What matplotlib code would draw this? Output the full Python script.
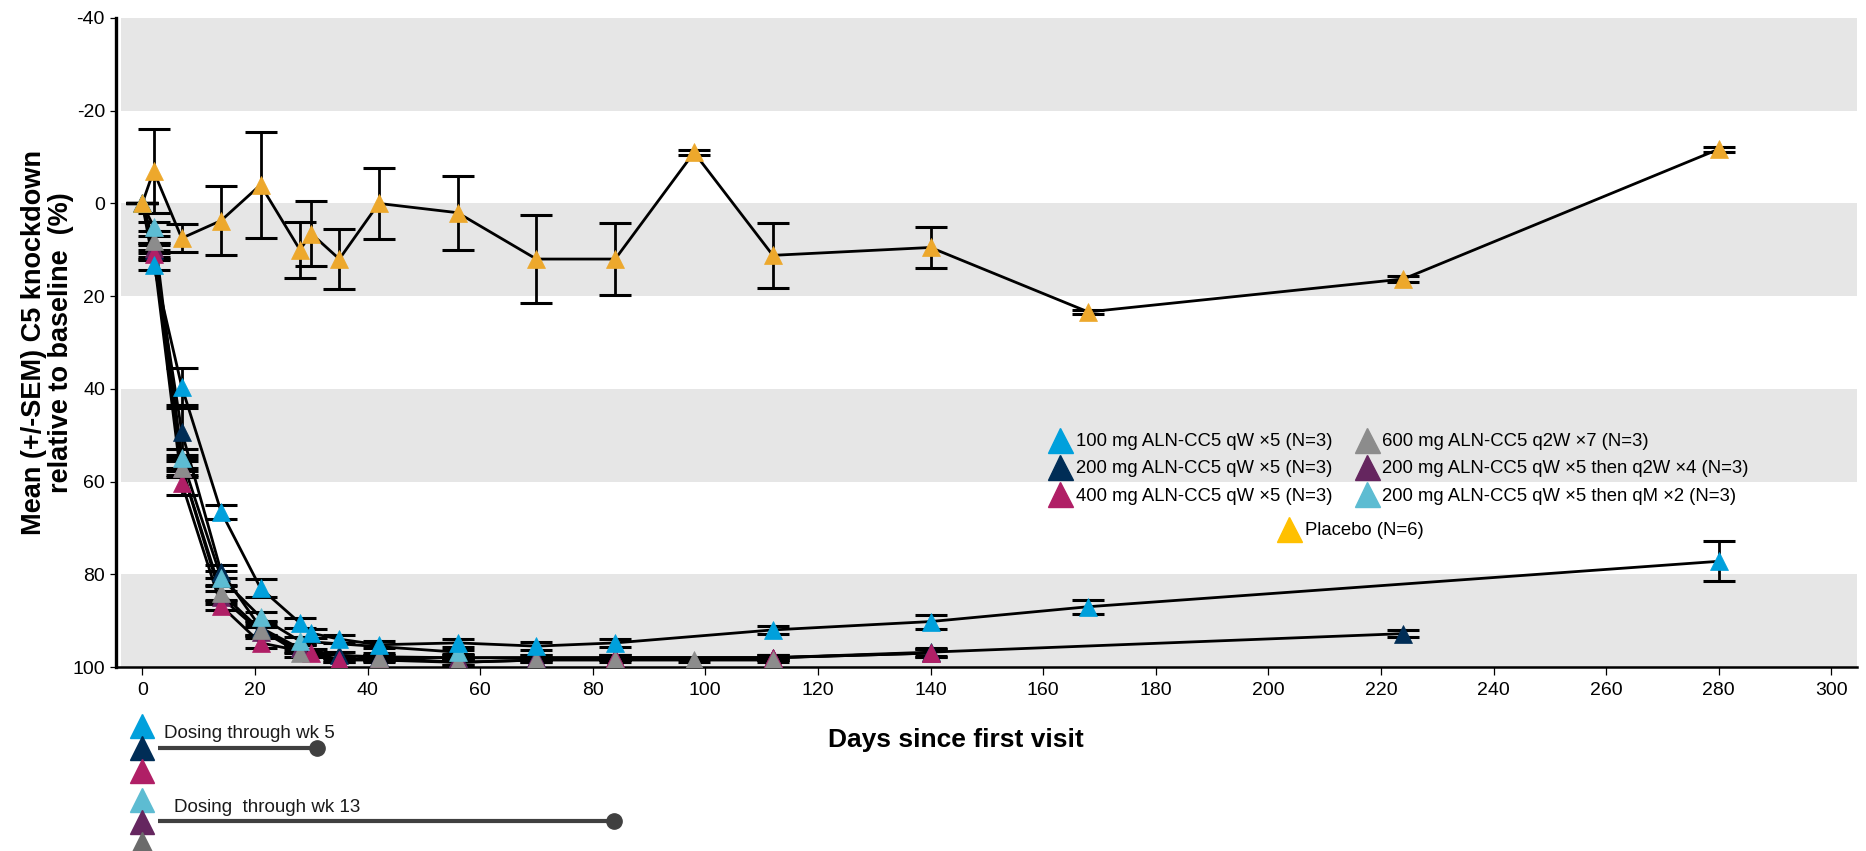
import matplotlib
matplotlib.use("Agg")
import matplotlib.pyplot as plt
from matplotlib.lines import Line2D
from matplotlib import font_manager
import matplotlib.transforms as mtransforms

plt.rcParams['axes.unicode_minus'] = False

# ---------------- data ----------------
days_100 = [0, 2, 7, 14, 21, 28, 30, 35, 42, 56, 70, 84, 112, 140, 168, 280]
vals_100 = [0, 13.3, 39.5, 66.5, 83, 90.5, 92.7, 94, 95.2, 94.8, 95.5, 94.8, 92, 90.2, 87, 77.2]
sem_100 = [0, 1, 4, 1.5, 2, 1, 1, 0.8, 0.8, 0.8, 0.8, 0.8, 0.8, 1.5, 1.5, 4.3]

days_200 = [0, 2, 7, 14, 21, 28, 35, 42, 56, 70, 84, 112, 140, 224]
vals_200 = [0, 10, 49.2, 79.4, 91.5, 96, 97.5, 97.8, 98, 98, 98, 98, 96.8, 92.8]
sem_200 = [0, 1.5, 5, 1.5, 1.5, 1, 0.8, 0.8, 0.5, 0.5, 0.5, 0.5, 0.8, 0.8]

days_400 = [0, 2, 7, 14, 21, 30, 35, 42, 56, 70, 84, 112, 140]
vals_400 = [0, 11, 60.3, 86.8, 94.8, 97, 98.5, 98.5, 99, 98.5, 98, 98, 97]
sem_400 = [0, 1, 2.5, 1, 1, 0.8, 0.5, 0.5, 0.5, 0.5, 0.5, 0.5, 0.8]

days_600 = [0, 2, 7, 14, 21, 28, 42, 56, 70, 84, 98, 112]
vals_600 = [0, 8, 57, 84, 92, 97, 98, 99, 98.5, 98.5, 98.5, 98.5]
sem_600 = [0, 1, 2, 1.5, 1, 0.8, 0.5, 0.5, 0.5, 0.5, 0.5, 0.5]

days_q2w = [0, 2, 7, 14, 21, 28, 35, 42, 56, 70, 84, 112, 140]
vals_q2w = [0, 9.6, 57, 85, 92.4, 96, 98.5, 98, 98, 98, 98, 98, 97]
sem_q2w = [0, 1, 1.5, 1.5, 1, 0.8, 0.5, 0.5, 0.5, 0.5, 0.5, 0.5, 0.8]

days_qm = [0, 2, 7, 14, 21, 28, 56]
vals_qm = [0, 5, 55, 80.8, 89.2, 94.4, 96.8]
sem_qm = [0, 1, 2, 1.5, 1, 0.8, 0.5]

days_pbo = [0, 2, 7, 14, 21, 28, 30, 35, 42, 56, 70, 84, 98, 112, 140, 168, 224, 280]
vals_pbo = [0, -7, 7.5, 3.7, -4, 10, 6.5, 12, 0, 2, 12, 12, -11, 11.2, 9.5, 23.4, 16.3, -11.7]
sem_pbo = [0, 9, 3, 7.5, 11.5, 6, 7, 6.5, 7.7, 8, 9.5, 7.7, 0.5, 7, 4.5, 0.5, 0.7, 0.5]

labels = ["100 mg ALN-CC5 qW \u00d75 (N=3)",
          "200 mg ALN-CC5 qW \u00d75 (N=3)",
          "400 mg ALN-CC5 qW \u00d75 (N=3)",
          "600 mg ALN-CC5 q2W \u00d77 (N=3)",
          "200 mg ALN-CC5 qW \u00d75 then q2W \u00d74 (N=3)",
          "200 mg ALN-CC5 qW \u00d75 then qM \u00d72 (N=3)"]
placebo_label = "Placebo (N=6)"

x_ticks = [0, 20, 40, 60, 80, 100, 120, 140, 160, 180, 200, 220, 240, 260, 280, 300]
y_ticks = [-40, -20, 0, 20, 40, 60, 80, 100]

dosing_texts = ["Dosing through wk 5", "Dosing  through wk 13"]
dosing_end_days = [31, 83.8]

# ---------------- style ----------------
C100 = "#00A0DC"
C200 = "#002D56"
C400 = "#B01F66"
C600 = "#8C8C8C"
CQ2W = "#65265F"
CQM = "#5DBCD2"
CPBO = "#EDA82C"
CPBO_LEG = "#FFC000"

names = {f.name for f in font_manager.fontManager.ttflist}
if 'Liberation Sans Narrow' in names:
    NFAM = 'Liberation Sans Narrow'
    tick_fs, leg_fs, dos_fs = 17, 16, 16
else:
    NFAM = 'Liberation Sans'
    tick_fs, leg_fs, dos_fs = 14, 13.3, 13.5
BFAM = 'Liberation Sans'

W, H = 1866, 851
fig = plt.figure(figsize=(W / 100, H / 100), dpi=100)
ax_left, ax_right, ax_top, ax_bot = 116, 1857, 18, 667
ax = fig.add_axes([ax_left / W, 1 - ax_bot / H, (ax_right - ax_left) / W, (ax_bot - ax_top) / H])

px_per_day = 5.63
x0px = 142.3
ax.set_xlim((ax_left - x0px) / px_per_day, (ax_right - x0px) / px_per_day)
ax.set_ylim(100, -40)

for lo, hi in [(-40, -20), (0, 20), (40, 60), (80, 100)]:
    ax.axhspan(lo, hi, xmin=0.003, xmax=1, color="#E6E6E6", lw=0, zorder=0)

series = [
    (days_200, vals_200, sem_200, C200),
    (days_q2w, vals_q2w, sem_q2w, CQ2W),
    (days_400, vals_400, sem_400, C400),
    (days_600, vals_600, sem_600, C600),
    (days_qm, vals_qm, sem_qm, CQM),
    (days_100, vals_100, sem_100, C100),
    (days_pbo, vals_pbo, sem_pbo, CPBO),
]

for i, (d, v, s, c) in enumerate(series):
    ax.errorbar(d, v, yerr=s, fmt='none', ecolor='black', elinewidth=2,
                capsize=11.5, capthick=2.2, zorder=2)
    ax.plot(d, v, color='black', lw=2, zorder=3, solid_joinstyle='round')
for i, (d, v, s, c) in enumerate(series):
    ax.plot(d, v, ls='none', marker='^', ms=12.5, color=c, mec=c, mew=0.5, zorder=5 + i)

ax.spines['top'].set_visible(False)
ax.spines['right'].set_visible(False)
ax.spines['left'].set_linewidth(2.4)
ax.spines['bottom'].set_linewidth(1.8)
ax.set_xticks(x_ticks)
ax.set_yticks(y_ticks)
ax.set_xticklabels([str(t) for t in x_ticks])
ax.set_yticklabels([str(t) for t in y_ticks])
ax.tick_params(axis='x', direction='out', length=6, width=0.9, pad=5, labelsize=tick_fs)
ax.tick_params(axis='y', direction='out', length=4, width=0.9, pad=4, labelsize=tick_fs)
for lab in ax.get_xticklabels() + ax.get_yticklabels():
    lab.set_fontfamily(NFAM)

ax.set_xlabel("Days since first visit", fontsize=19, fontweight='bold', family=BFAM)
ax.xaxis.set_label_coords((956 - ax_left) / (ax_right - ax_left), (ax_bot - 740) / (ax_bot - ax_top))
ax.xaxis.label.set_va('center')
ax.set_ylabel("Mean (+/-SEM) C5 knockdown\nrelative to baseline  (%)", fontsize=19.5,
              fontweight='bold', family=BFAM, linespacing=1.05)
ax.yaxis.set_label_coords((48 - ax_left) / (ax_right - ax_left), 0.5)
ax.yaxis.label.set_va('center')

# legend
handles = [Line2D([], [], ls='none', marker='^', ms=18, color=c, mec=c)
           for c in [C100, C200, C400, C600, CQ2W, CQM]]
leg1 = ax.legend(handles, labels, ncol=2, loc='upper left',
                 bbox_to_anchor=(1051 / W, 1 - 433 / H), bbox_transform=fig.transFigure,
                 frameon=False, prop={'family': NFAM, 'size': leg_fs},
                 handlelength=1.0, handletextpad=0.35, labelspacing=0.56,
                 columnspacing=1.35, borderpad=0, borderaxespad=0)
ax.add_artist(leg1)
ph = [Line2D([], [], ls='none', marker='^', ms=18, color=CPBO_LEG, mec=CPBO_LEG)]
leg2 = ax.legend(ph, [placebo_label], loc='upper left',
                 bbox_to_anchor=(1280 / W, 1 - 522 / H), bbox_transform=fig.transFigure,
                 frameon=False, prop={'family': NFAM, 'size': leg_fs},
                 handlelength=1.0, handletextpad=0.35, borderpad=0, borderaxespad=0)

# dosing annotation (below axes)
tr = mtransforms.blended_transform_factory(ax.transData, fig.transFigure)
dos_colors = [C100, C200, C400, CQM, CQ2W, "#6B6B6B"]
dos_ypx = [726, 748, 771, 800, 822, 844]
for c, ypx in zip(dos_colors, dos_ypx):
    ax.plot([0], [1 - ypx / H], transform=tr, marker='^', ms=17, color=c, mec=c,
            ls='none', clip_on=False, zorder=10)
line_ypx = [748, 821]
text_ypx = [734, 808]
text_x = [3.8, 5.6]
for end, ly, txt, ty, tx in zip(dosing_end_days, line_ypx, dosing_texts, text_ypx, text_x):
    ax.plot([2.8, end], [1 - ly / H, 1 - ly / H], transform=tr, color="#404040", lw=3,
            clip_on=False, zorder=9, solid_capstyle='butt')
    ax.plot([end], [1 - ly / H], transform=tr, marker='o', ms=11, color="#404040",
            clip_on=False, zorder=10)
    ax.text(tx, 1 - ty / H, txt, transform=tr, fontsize=dos_fs, family=NFAM,
            ha='left', va='center', color='#1a1a1a')

fig.savefig("out.png", dpi=100)
